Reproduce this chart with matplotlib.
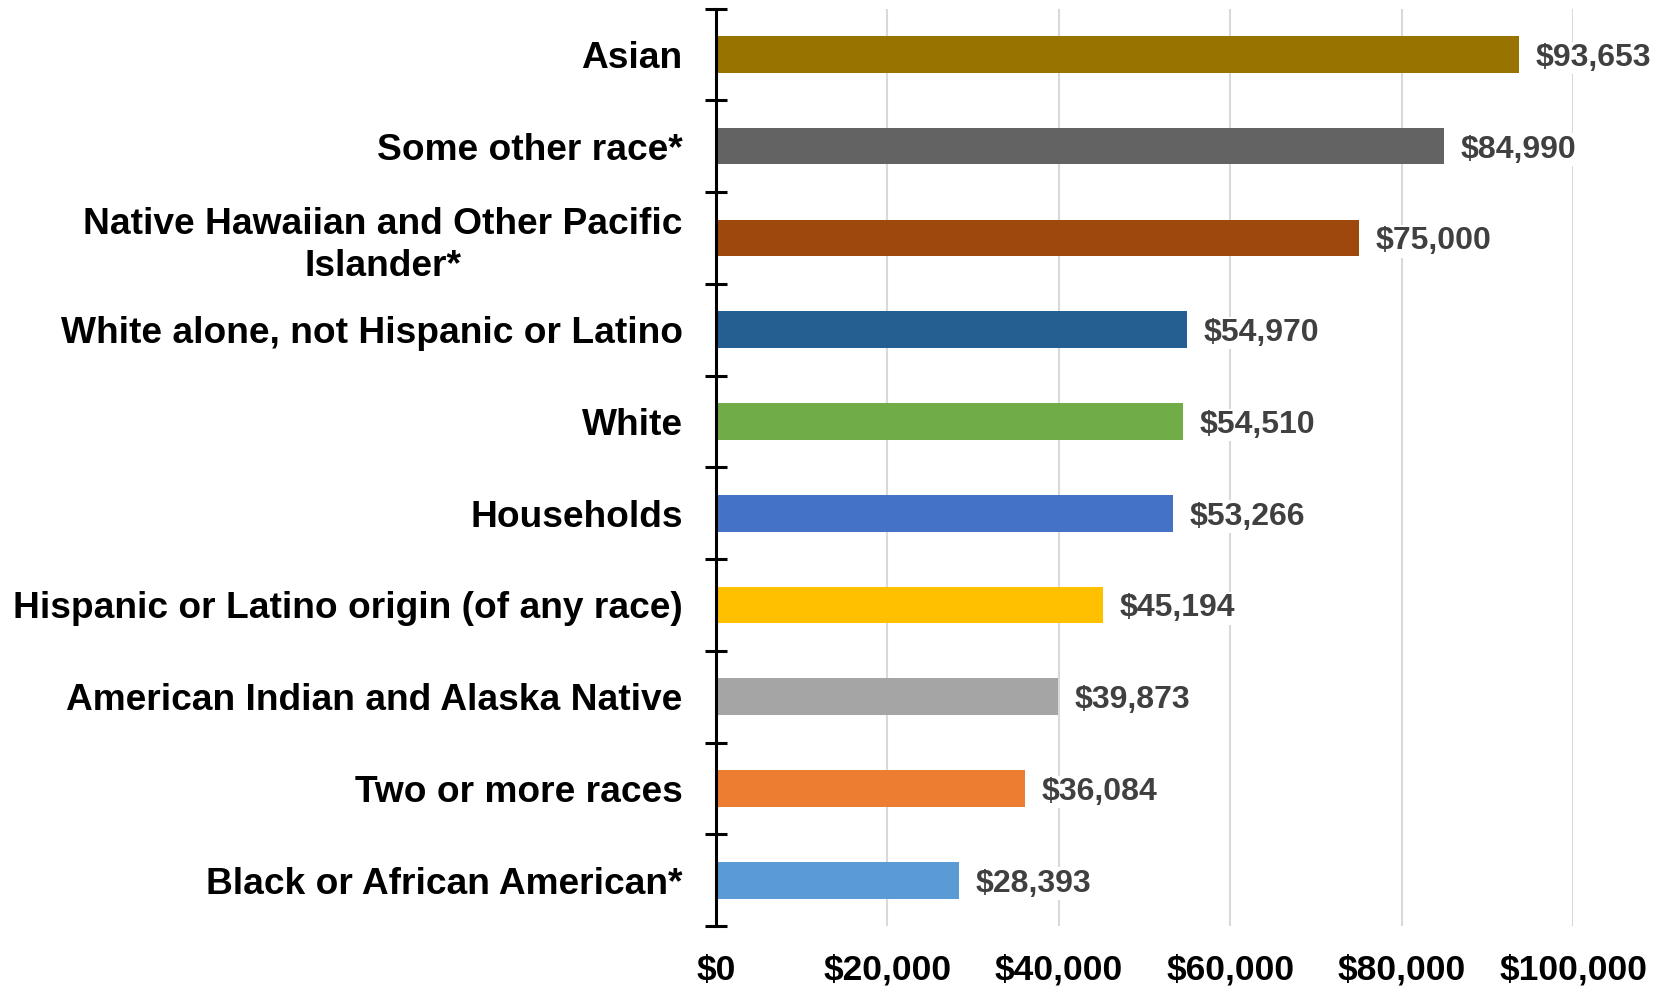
import matplotlib.pyplot as plt
import numpy as np

categories = ["Asian", "Some other race*", "Native Hawaiian and Other Pacific\nIslander*",
              "White alone, not Hispanic or Latino", "White", "Households",
              "Hispanic or Latino origin (of any race)", "American Indian and Alaska Native",
              "Two or more races", "Black or African American*"]
incomes = [93653, 84990, 75000, 54970, 54510, 53266, 45194, 39873, 36084, 28393]
colors = ["#997300", "#636363", "#9E480E", "#255E91", "#70AD47", "#4472C4",
          "#FFC000", "#A5A5A5", "#ED7D31", "#5B9BD5"]
x_ticks = [0, 20000, 40000, 60000, 80000, 100000]

plt.rcParams['font.family'] = ['Liberation Sans', 'DejaVu Sans']

fig = plt.figure(figsize=(16.69, 9.9), dpi=100)
ax = fig.add_axes([0.429, 0.0646, 0.9425 - 0.429, 0.9914 - 0.0646])

y = np.arange(len(categories))
ax.barh(y, incomes, height=0.4, color=colors, zorder=2)
for yi, v in zip(y, incomes):
    ax.annotate("${:,}".format(v), (v, yi), xytext=(12, 0), textcoords='offset points',
                va='center_baseline', ha='left', fontsize=23, fontweight='bold',
                color='#404040', zorder=3,
                bbox=dict(facecolor='white', edgecolor='none', pad=1))

ax.set_ylim(len(categories) - 0.5, -0.5)
ax.set_xlim(0, 100000)
ax.set_yticks(y)
ax.set_yticklabels(categories, fontsize=26.7, fontweight='bold', multialignment='center',
                   linespacing=1.25)
ax.set_yticks(np.arange(len(categories) + 1) - 0.5, minor=True)
ax.tick_params(axis='y', which='major', length=0, pad=24)
ax.tick_params(axis='y', which='minor', direction='inout', length=16, width=2.2, color='black')

ax.set_xticks(x_ticks)
ax.set_xticklabels(["${:,}".format(t) for t in x_ticks], fontsize=25.5, fontweight='bold')
ax.tick_params(axis='x', length=0, pad=20)
ax.grid(axis='x', color='#D9D9D9', linewidth=1.5, zorder=0)
ax.set_axisbelow(True)

for s in ['top', 'right', 'bottom']:
    ax.spines[s].set_visible(False)
ax.spines['left'].set_linewidth(2.2)
ax.spines['left'].set_zorder(4)

fig.savefig("out.png", dpi=100)
